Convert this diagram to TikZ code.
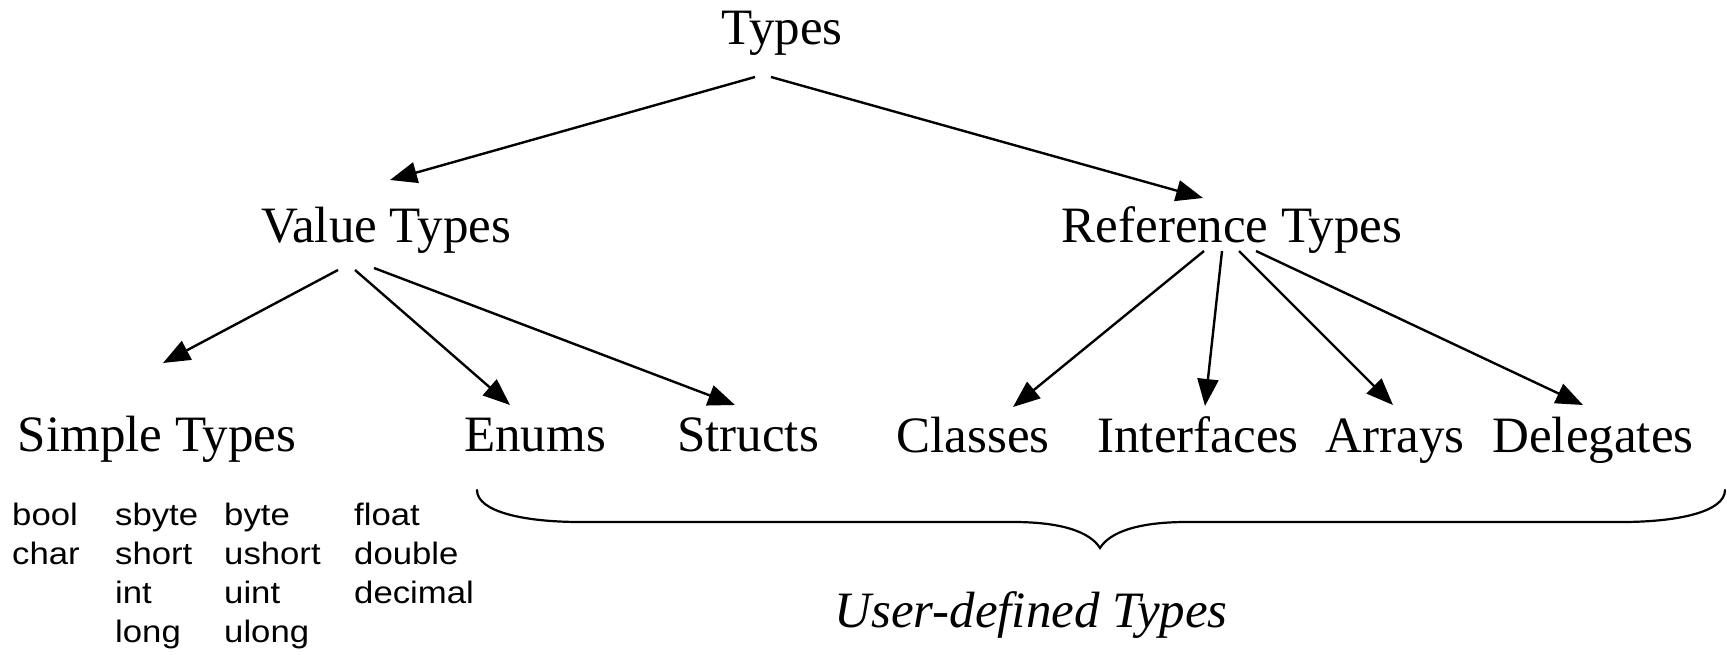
\documentclass[tikz,border=0pt]{standalone}
\usepackage{fontspec}
\setmainfont{Liberation Serif}
\newfontfamily\smallsans[FakeStretch=1.12]{Liberation Sans}
\usetikzlibrary{arrows.meta}
\begin{document}
\begin{tikzpicture}[x=1pt,y=-1pt,
  lbl/.style={inner sep=0pt, anchor=base, font=\fontsize{51}{60}\selectfont},
  word/.style={inner sep=0pt, anchor=base west, font=\smallsans\fontsize{31}{36}\selectfont},
  arr/.style={line width=2.4pt, -{Triangle[length=27pt,width=21pt]}},
  bracestyle/.style={line width=2.2pt, line cap=round}]
\useasboundingbox[fill=white] (0,0) rectangle (1727,655);

% main labels
\node[lbl] (T)  at (782,45)  {Types};
\node[lbl] (VT) at (386,243) {Value Types};
\node[lbl] (RT) at (1232,243) {Reference Types};
\node[lbl] (ST) at (157,451) {Simple Types};
\node[lbl] (EN) at (535,451) {Enums};
\node[lbl] (SR) at (748,451) {Structs};
\node[lbl] (CL) at (973,452) {Classes};
\node[lbl] (IF) at (1198,452) {Interfaces};
\node[lbl] (AR) at (1395,452) {Arrays};
\node[lbl] (DL) at (1593,452) {Delegates};
\node[lbl, font={\fontsize{51}{60}\selectfont\itshape}] (UD) at (1031,627) {User-defined Types};

% simple type names
\node[word] (w1)  at (12,525)  {bool};
\node[word] (w2)  at (12,564)  {char};
\node[word] (w3)  at (115,525) {sbyte};
\node[word] (w4)  at (115,564) {short};
\node[word] (w5)  at (115,603) {int};
\node[word] (w6)  at (115,642) {long};
\node[word] (w7)  at (224,525) {byte};
\node[word] (w8)  at (224,564) {ushort};
\node[word] (w9)  at (224,603) {uint};
\node[word] (w10) at (224,642) {ulong};
\node[word] (w11) at (354,525) {float};
\node[word] (w12) at (354,564) {double};
\node[word] (w13) at (354,603) {decimal};

% arrows
\draw[arr] ([shift={(-27,32)}]T.base) -- ([shift={(4,-63)}]VT.base);
\draw[arr] ([shift={(-11,32)}]T.base) -- ([shift={(-29,-45)}]RT.base);

\draw[arr] ([shift={(-48,27)}]VT.base) -- ([shift={(6,-88)}]ST.base);
\draw[arr] ([shift={(-31,27)}]VT.base) -- ([shift={(-25,-46)}]EN.base);
\draw[arr] ([shift={(-12,25)}]VT.base) -- ([shift={(-13,-46)}]SR.base);

\draw[arr] ([shift={(-28,8)}]RT.base) -- ([shift={(40,-45)}]CL.base);
\draw[arr] ([shift={(-10,8)}]RT.base) -- ([shift={(7,-46)}]IF.base);
\draw[arr] ([shift={(7,8)}]RT.base) -- ([shift={(-2,-47)}]AR.base);
\draw[arr] ([shift={(24,8)}]RT.base) -- ([shift={(-10,-47)}]DL.base);

% brace
\coordinate (bl) at (477,490);
\coordinate (br) at (1725,490);
\coordinate (bm) at (1100,548);
\draw[bracestyle] (bl) .. controls (477,512) and (525,522) .. (580,522)
  -- (1013,522) .. controls (1062,522) and (1090,532) .. (bm)
  .. controls (1110,532) and (1138,522) .. (1187,522)
  -- (1622,522) .. controls (1677,522) and (1725,512) .. (br);
\end{tikzpicture}
\end{document}
